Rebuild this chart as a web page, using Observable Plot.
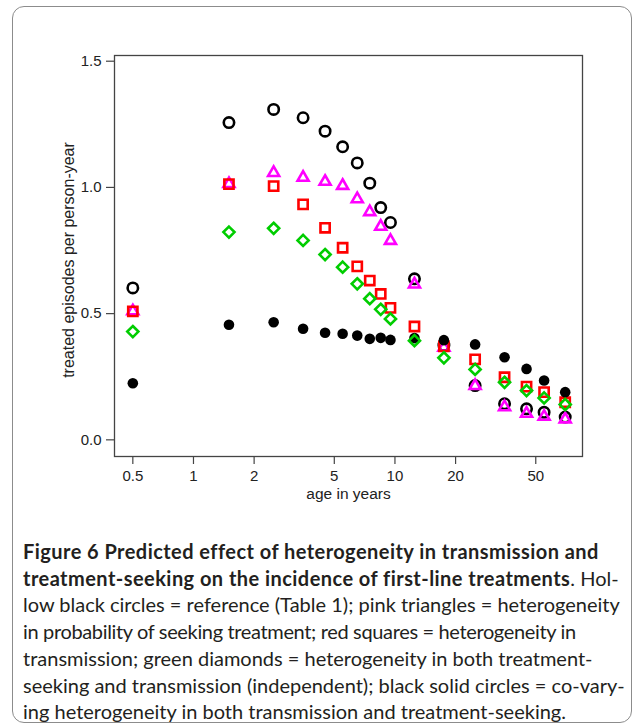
<!DOCTYPE html>
<html>
<head>
<meta charset="utf-8">
<script src="https://cdn.jsdelivr.net/npm/d3@7"></script>
<script src="https://cdn.jsdelivr.net/npm/@observablehq/plot@0.6"></script>
<style>
  html, body { margin: 0; padding: 0; background: #fff; }
  #page { position: relative; width: 634px; height: 724px; overflow: hidden; }
  #box { position: absolute; left: 12px; top: 6px; width: 620px; height: 717px;
         border: 1px solid #8c8c8c; border-radius: 12px; box-sizing: border-box; }
  #chart { position: absolute; left: 0; top: 0; }
  #caption { position: absolute; left: 23px; top: 538px; width: 589px;
             font-family: Lato, "Open Sans", sans-serif; font-size: 20px;
             line-height: 26.7px; color: #231f20; }
  #caption div { white-space: nowrap; }
  #caption .j { text-align: justify; text-align-last: justify; }
  #caption .t { letter-spacing: -0.35px; }
  #caption b { font-weight: 700; letter-spacing: 0.45px; }
</style>
</head>
<body>
<div id="page">
  <div id="box"></div>
  <div id="chart"></div>
  <div id="caption">
    <div><b>Figure 6 Predicted effect of heterogeneity in transmission and</b></div>
    <div class="j"><b>treatment-seeking on the incidence of first-line treatments</b>. Hol-</div>
    <div class="j">low black circles = reference (Table 1); pink triangles = heterogeneity</div>
    <div class="t">in probability of seeking treatment; red squares = heterogeneity in</div>
    <div>transmission; green diamonds = heterogeneity in both treatment-</div>
    <div class="j">seeking and transmission (independent); black solid circles = co-vary-</div>
    <div>ing heterogeneity in both transmission and treatment-seeking.</div>
  </div>
</div>
<script>
// Age-group midpoints (years)
const ages = [0.5, 1.5, 2.5, 3.5, 4.5, 5.5, 6.5, 7.5, 8.5, 9.5, 12.5, 17.5, 25, 35, 45, 55, 70];

// Hollow black circles: reference (Table 1)
const reference = [0.602, 1.257, 1.309, 1.276, 1.223, 1.161, 1.097, 1.017, 0.920, 0.861, 0.638, 0.375, 0.215, 0.143, 0.123, 0.109, 0.090];
// Pink triangles: heterogeneity in probability of seeking treatment
const treatmentSeeking = [0.510, 1.014, 1.058, 1.039, 1.023, 1.007, 0.954, 0.903, 0.845, 0.789, 0.616, 0.366, 0.214, 0.130, 0.104, 0.092, 0.082];
// Red squares: heterogeneity in transmission
const transmission = [0.509, 1.013, 1.005, 0.933, 0.840, 0.761, 0.687, 0.631, 0.578, 0.523, 0.449, 0.370, 0.319, 0.248, 0.211, 0.189, 0.149];
// Green diamonds: heterogeneity in both (independent)
const bothIndependent = [0.429, 0.823, 0.838, 0.790, 0.734, 0.684, 0.618, 0.559, 0.517, 0.479, 0.393, 0.325, 0.279, 0.228, 0.195, 0.166, 0.140];
// Black solid circles: co-varying heterogeneity
const coVarying = [0.224, 0.456, 0.466, 0.440, 0.424, 0.420, 0.413, 0.400, 0.404, 0.396, 0.403, 0.395, 0.378, 0.327, 0.281, 0.235, 0.189];

const xTicks = [0.5, 1, 2, 5, 10, 20, 50];
const xTickLabels = ["0.5", "1", "2", "5", "10", "20", "50"];
const yTicks = [0, 0.5, 1, 1.5];
const xLabel = "age in years";
const yLabel = "treated episodes per person-year";

const toRows = (vals) => ages.map((a, i) => ({age: a, value: vals[i]}));
const xTickRows = xTicks.map((t, i) => ({t, label: xTickLabels[i]}));

const axisFont = "'Liberation Sans', Arial, sans-serif";

const chart = Plot.plot({
  width: 634,
  height: 520,
  marginLeft: 114,
  marginRight: 52,
  marginTop: 55,
  marginBottom: 64,
  style: {fontFamily: axisFont, fontSize: "15px", color: "#222", background: "transparent"},
  x: {type: "log", domain: [0.4055, 85.3]},
  y: {domain: [-0.066, 1.5226]},
  marks: [
    Plot.frame({stroke: "#444", strokeWidth: 1.3}),
    Plot.axisX({ticks: xTicks, tickFormat: () => "", tickSize: 8, label: null, stroke: "#444", strokeWidth: 1.2}),
    Plot.text(xTickRows, {x: "t", text: "label", frameAnchor: "bottom", dy: 24, fontSize: 15}),
    Plot.axisY({ticks: yTicks, tickFormat: d3.format(".1f"), tickSize: 8, tickPadding: 5, label: null, stroke: "#444", strokeWidth: 1.2, fontSize: 15}),
    Plot.text([xLabel], {frameAnchor: "bottom", dy: 42, text: d => d, fontSize: 15.5}),
    Plot.text([yLabel], {frameAnchor: "left", textAnchor: "middle", dx: -46, dy: 4, rotate: -90, text: d => d, fontSize: 16}),
    Plot.dot(toRows(reference), {x: "age", y: "value", symbol: "circle", r: 5.2, stroke: "#000", strokeWidth: 2.6, fill: "none"}),
    Plot.dot(toRows(treatmentSeeking), {x: "age", y: "value", symbol: "triangle", r: 4.1, stroke: "#FF00FF", strokeWidth: 2.6, fill: "none"}),
    Plot.dot(toRows(transmission), {x: "age", y: "value", symbol: "square", r: 5.2, stroke: "#FF0000", strokeWidth: 2.6, fill: "none"}),
    Plot.dot(toRows(coVarying), {x: "age", y: "value", symbol: "circle", r: 5.3, fill: "#000", stroke: "none"}),
    Plot.dot(toRows(bothIndependent), {x: "age", y: "value", symbol: "diamond2", r: 5.0, stroke: "#00CD00", strokeWidth: 2.6, fill: "none"})
  ]
});
document.getElementById("chart").appendChild(chart);
</script>
</body>
</html>
